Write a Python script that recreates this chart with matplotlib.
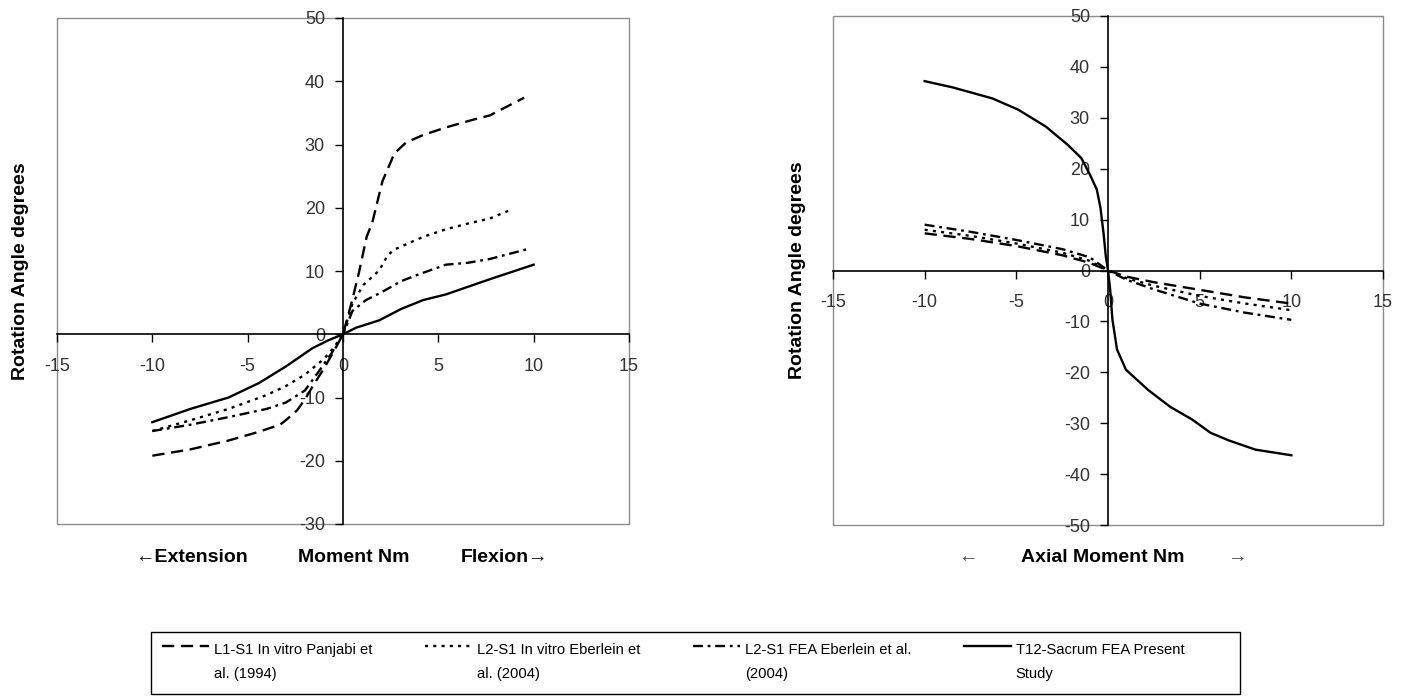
import numpy as np
import matplotlib
matplotlib.use("Agg")
import matplotlib.pyplot as plt
from matplotlib import font_manager
from matplotlib.legend_handler import HandlerLine2D
from matplotlib.lines import Line2D
from matplotlib.patches import Rectangle

# ---- flexion / extension (left) ----
fe_pan_x = [-10, -8, -6, -4.5, -3.3, -3.0, -2.4, -2.0, -1.5, -1.0, -0.5, 0, 0.45, 0.84, 1.24, 1.54, 2.07, 2.7, 3.3, 4.2, 5.4, 6.8, 7.7, 9.5]
fe_pan_y = [-19.2, -18.2, -16.8, -15.5, -14.3, -13.6, -12.0, -10.3, -7.8, -5.4, -2.8, 0, 5.0, 9.8, 15.4, 17.7, 24.2, 28.6, 30.3, 31.5, 32.7, 33.9, 34.6, 37.4]

fe_ebv_x = [-10, -8, -6, -4, -3, -2, -1, -0.5, 0, 0.5, 1.07, 1.9, 2.35, 2.7, 3.3, 4.2, 5.4, 6.55, 7.7, 8.9]
fe_ebv_y = [-15.3, -13.6, -11.8, -9.6, -8.2, -6.4, -3.9, -2.2, 0, 4.9, 7.8, 10.1, 12.5, 13.4, 14.2, 15.4, 16.6, 17.5, 18.3, 19.8]

fe_fea_x = [-10, -8, -6, -4, -3, -2, -1.3, -0.6, 0, 0.5, 1.2, 2.0, 3.05, 4.0, 5.4, 6.55, 7.7, 9.6]
fe_fea_y = [-15.3, -14.3, -13.1, -11.8, -10.8, -8.9, -6.0, -3.0, 0, 3.7, 5.4, 6.6, 8.4, 9.5, 11.0, 11.3, 11.9, 13.4]

fe_t12_x = [-10, -8, -6, -4.4, -3, -1.6, -0.8, 0, 0.7, 1.9, 3.05, 4.2, 5.4, 6.55, 7.7, 10]
fe_t12_y = [-13.9, -11.8, -10.0, -7.7, -5.1, -2.2, -1.0, 0, 1.05, 2.2, 4.0, 5.4, 6.3, 7.5, 8.7, 11.0]

# ---- axial rotation (right) ----
ar_x = [-10, -7.5, -5, -2.5, -1, 0, 1, 2.5, 5, 7.5, 10]
ar_pan_y = [7.3, 6.2, 4.8, 3.0, 1.5, 0, -1.2, -2.3, -3.8, -5.3, -6.5]
ar_ebv_y = [8.0, 6.8, 5.3, 3.5, 1.9, 0, -1.5, -3.0, -5.0, -6.5, -7.8]
ar_fea_y = [9.0, 7.6, 6.0, 4.2, 2.6, 0, -1.8, -3.7, -6.5, -8.3, -9.7]

ar_t12_x = [-10, -8.5, -6.3, -4.9, -3.4, -2.2, -1.46, -0.98, -0.61, -0.41, -0.24, -0.12, 0,
            0.12, 0.24, 0.49, 0.98, 2.2, 3.4, 4.6, 5.6, 6.6, 8.05, 10]
ar_t12_y = [37.2, 36.0, 33.8, 31.6, 28.3, 24.7, 22.1, 18.8, 15.9, 12.3, 7.2, 2.8, 0,
            -3.8, -9.6, -15.5, -19.5, -23.5, -26.8, -29.3, -31.9, -33.4, -35.2, -36.3]

labels = ["L1-S1 In vitro Panjabi et\nal. (1994)",
          "L2-S1 In vitro Eberlein et\nal. (2004)",
          "L2-S1 FEA Eberlein et al.\n(2004)",
          "T12-Sacrum FEA Present\nStudy"]

xticks = [-15, -10, -5, 0, 5, 10, 15]
yticks_fe = [-30, -20, -10, 0, 10, 20, 30, 40, 50]
yticks_ar = [-50, -40, -30, -20, -10, 0, 10, 20, 30, 40, 50]

plt.rcParams['font.family'] = ['Liberation Sans', 'DejaVu Sans']
plt.rcParams['axes.unicode_minus'] = False

LW = 1.7
styles = [dict(dashes=(5.2, 2.8)),
          dict(dashes=(1.3, 2.2)),
          dict(dashes=(4.2, 2.0, 1.2, 2.0)),
          dict(linestyle='-')]

W, H = 1403, 696
fig = plt.figure(figsize=(W / 100, H / 100), dpi=100)
ax1 = fig.add_axes([57 / W, 1 - 524 / H, 572 / W, 506 / H])
ax2 = fig.add_axes([833 / W, 1 - 525 / H, 550 / W, 509 / H])


def setup(ax, yticks):
    ax.set_xlim(-15, 15)
    ax.set_ylim(yticks[0], yticks[-1])
    for s in ['top', 'right']:
        ax.spines[s].set_visible(False)
    ax.spines['left'].set_position(('data', 0))
    ax.spines['bottom'].set_position(('data', 0))
    for s in ['left', 'bottom']:
        ax.spines[s].set_linewidth(1.2)
        ax.spines[s].set_color('black')
    ax.add_patch(Rectangle((0, 0), 1, 1, transform=ax.transAxes, fill=False,
                           ec='#8c8c8c', lw=1, clip_on=False, zorder=0))
    ax.set_xticks(xticks)
    ax.set_yticks(yticks)
    ax.tick_params(direction='out', length=6, width=1, colors='black',
                   labelsize=13, labelcolor='#333333')
    ax.tick_params(axis='x', pad=11)
    ax.tick_params(axis='y', pad=7)
    ax.set_ylabel('Rotation Angle degrees', fontsize=14, fontweight='bold')
    ax.yaxis.set_label_coords(-0.049, 0.5)


setup(ax1, yticks_fe)
setup(ax2, yticks_ar)

fe_series = [(fe_pan_x, fe_pan_y), (fe_ebv_x, fe_ebv_y), (fe_fea_x, fe_fea_y), (fe_t12_x, fe_t12_y)]
ar_series = [(ar_x, ar_pan_y), (ar_x, ar_ebv_y), (ar_x, ar_fea_y), (ar_t12_x, ar_t12_y)]

for (x, y), st in zip(fe_series, styles):
    ax1.plot(x, y, color='black', lw=LW, **st)
for (x, y), st in zip(ar_series, styles):
    ax2.plot(x, y, color='black', lw=LW, **st)

# axis titles under the plots
ty = 1 - 558 / H
fig.text(191 / W, ty, '\u2190Extension', ha='center', va='center', fontsize=14, fontweight='bold')
fig.text(354 / W, ty, 'Moment Nm', ha='center', va='center', fontsize=14, fontweight='bold')
fig.text(505 / W, ty, 'Flexion\u2192', ha='center', va='center', fontsize=14, fontweight='bold')
fig.text(968 / W, ty, '\u2190', ha='center', va='center', fontsize=14, color='#444444')
fig.text(1103 / W, ty, 'Axial Moment Nm', ha='center', va='center', fontsize=14, fontweight='bold')
fig.text(1237 / W, ty, '\u2192', ha='center', va='center', fontsize=14, color='#444444')

LEG_SPACING = 1.95


# legend: sample line beside the first text line, like Excel
class FirstLineHandler(HandlerLine2D):
    def create_artists(self, legend, orig_handle, xdescent, ydescent, width, height, fontsize, trans):
        arts = super().create_artists(legend, orig_handle, xdescent, ydescent, width, height, fontsize, trans)
        for a in arts:
            a.set_ydata(np.asarray(a.get_ydata()) + 0.5 * LEG_SPACING * 1.15 * fontsize)
        return arts


try:
    font_manager.findfont('Liberation Sans Narrow', fallback_to_default=False)
    leg_font = dict(family='Liberation Sans Narrow', size=13)
except Exception:
    leg_font = dict(family='Liberation Sans', size=10.6)

handles = [Line2D([], [], color='black', lw=LW, **st) for st in styles]
leg = fig.legend(handles, labels, loc='upper left', bbox_to_anchor=(162 / W, 1 - 643 / H),
                 ncol=4, frameon=False, borderpad=0, borderaxespad=0,
                 handlelength=34 / leg_font['size'], handletextpad=0.3,
                 columnspacing=3.6, prop=leg_font,
                 handler_map={Line2D: FirstLineHandler()})
for t in leg.get_texts():
    t.set_linespacing(LEG_SPACING)
fig.add_artist(Rectangle((151 / W, 1 - 694 / H), (1240 - 151) / W, (694 - 632) / H,
                         transform=fig.transFigure, fill=False, ec='black', lw=1))

fig.savefig('out.png', dpi=100, facecolor='white')
